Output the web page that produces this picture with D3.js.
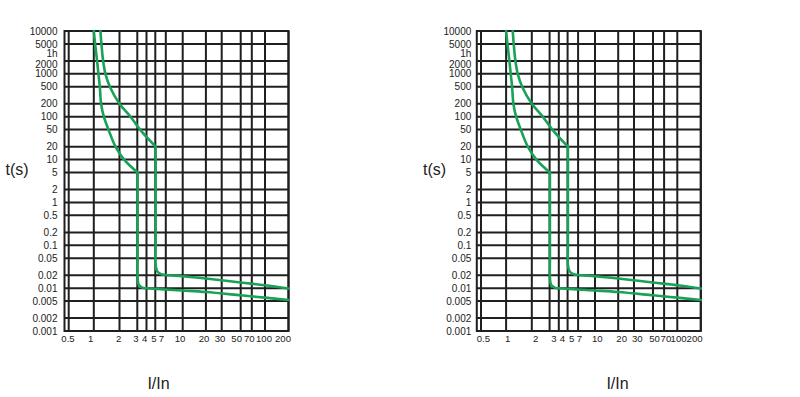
<!DOCTYPE html>
<html>
<head>
<meta charset="utf-8">
<script src="https://cdn.jsdelivr.net/npm/d3@7"></script>
<style>
  html, body { margin: 0; padding: 0; background: #fff; }
  svg { display: block; }
  .tick-label { font-family: "Liberation Sans Narrow", "Arial Narrow", "Liberation Sans", Arial, sans-serif; font-size: 10px; fill: #222; }
  .x-label { font-size: 9.6px; }
  .title { font-family: "Liberation Sans", Arial, sans-serif; font-size: 16px; fill: #222; }
</style>
</head>
<body>
<script>
// ---- data ----
const xTicks = [0.5, 1, 2, 3, 4, 5, 7, 10, 20, 30, 50, 70, 100, 200];
const xTickLabels = ["0.5", "1", "2", "3", "4", "5", "7", "10", "20", "30", "50", "70", "100", "200"];
const yTicks = [10000, 5000, 3600, 2000, 1000, 500, 200, 100, 50, 20, 10, 5, 2, 1, 0.5, 0.2, 0.1, 0.05, 0.02, 0.01, 0.005, 0.002, 0.001];
const yTickLabels = ["10000", "5000", "1h", "2000", "1000", "500", "200", "100", "50", "20", "10", "5", "2", "1", "0.5", "0.2", "0.1", "0.05", "0.02", "0.01", "0.005", "0.002", "0.001"];
const xTitle = "I/In";
const yTitle = "t(s)";

// lower (minimum) curve: thermal part, then magnetic part
const lowerThermal = [[1.0, 10000], [1.036, 5000], [1.093, 2000], [1.133, 1000], [1.176, 500], [1.218, 200], [1.311, 100], [1.485, 50], [1.795, 20], [2.22, 10], [3.03, 5]];
const lowerMagnetic = [[3.03, 5], [3.03, 0.5], [3.03, 0.05], [3.04, 0.016], [3.15, 0.0118], [3.5, 0.0103], [4, 0.0099], [10, 0.0088], [20, 0.0081], [50, 0.0068], [100, 0.006], [200, 0.0053]];
// upper (maximum) curve
const upperThermal = [[1.196, 10000], [1.228, 5000], [1.286, 2000], [1.369, 1000], [1.542, 500], [2.0, 200], [2.57, 100], [3.27, 50], [5.05, 20]];
const upperMagnetic = [[5.05, 20], [5.05, 1], [5.05, 0.1], [5.06, 0.034], [5.3, 0.025], [5.9, 0.0215], [7, 0.0202], [10, 0.019], [20, 0.0168], [50, 0.0135], [100, 0.0117], [200, 0.0098]];

// ---- layout (hand-drawn grid: pixel offsets of each x grid line from the frame's left edge) ----
const W = 800, H = 397;
const plotW = 224, plotH = 300, plotTop = 31;
const xGridOffsets = [4.2, 29.3, 55, 72.8, 82, 90.8, 101.3, 118.2, 141.4, 157.2, 176.2, 187.3, 200.5, 224];
const panels = [
  { x0: 64.5, yLabelGap: 7, yTitleX: 17, xTitleX: 158.5,
    xLabelNudge: [-0.7, -3.1, -0.8, -1.3, -1.8, -1.3, -4.5, -2.7, -1.9, -1.7, -4, -2.5, -1, -5.5] },
  { x0: 476.8, yLabelGap: 5.5, yTitleX: 434.5, xTitleX: 617.5,
    xLabelNudge: [2.3, 1.6, 3.9, 4.4, 3.5, 4.1, 1.2, 2.3, 3.5, 3.3, 1.5, 1.8, 1.3, -6.2] }
];
const gridColor = "#1f1f1f";
const curveColor = "#19a257";

const svg = d3.select("body").append("svg").attr("width", W).attr("height", H);
svg.append("rect").attr("width", W).attr("height", H).attr("fill", "#fff");

const x = d3.scaleLog().domain(xTicks).range(xGridOffsets);
const y = d3.scaleLog().domain([0.001, 10000]).range([plotH, 0]);

const line = d3.line().x(d => x(d[0])).y(d => y(d[1])).curve(d3.curveCatmullRom.alpha(0.5));

panels.forEach(p => {
  const g = svg.append("g").attr("transform", `translate(${p.x0},${plotTop})`);

  // horizontal grid lines (every labelled value except 1h)
  g.append("g").selectAll("line")
    .data(yTicks.filter((v, i) => yTickLabels[i] !== "1h"))
    .join("line")
    .attr("x1", 0).attr("x2", plotW)
    .attr("y1", d => y(d)).attr("y2", d => y(d))
    .attr("stroke", gridColor).attr("stroke-width", 2);

  // vertical grid lines
  g.append("g").selectAll("line")
    .data(xTicks)
    .join("line")
    .attr("x1", d => x(d)).attr("x2", d => x(d))
    .attr("y1", 0).attr("y2", plotH)
    .attr("stroke", gridColor).attr("stroke-width", 2);

  // frame
  g.append("rect").attr("x", 0).attr("y", 0).attr("width", plotW).attr("height", plotH)
    .attr("fill", "none").attr("stroke", gridColor).attr("stroke-width", 2);

  // y tick labels
  const yOffsets = { "1h": 3.5, "2000": 3 };
  g.append("g").selectAll("text")
    .data(yTicks.map((v, i) => ({ v, label: yTickLabels[i] })))
    .join("text")
    .attr("class", "tick-label")
    .attr("x", -p.yLabelGap)
    .attr("y", d => y(d.v) + 1 + (yOffsets[d.label] || 0))
    .attr("text-anchor", "end")
    .attr("dominant-baseline", "middle")
    .text(d => d.label);

  // x tick labels
  g.append("g").selectAll("text")
    .data(xTicks.map((v, i) => ({ v, label: xTickLabels[i], nudge: p.xLabelNudge[i] })))
    .join("text")
    .attr("class", "tick-label x-label")
    .attr("x", d => x(d.v) + d.nudge)
    .attr("y", plotH + 8)
    .attr("text-anchor", "middle")
    .attr("dominant-baseline", "middle")
    .text(d => d.label);

  // curves
  [lowerThermal, lowerMagnetic, upperThermal, upperMagnetic].forEach(c => {
    g.append("path").datum(c)
      .attr("d", line)
      .attr("fill", "none")
      .attr("stroke", curveColor)
      .attr("stroke-width", 2.6)
      .attr("stroke-linejoin", "round")
      .attr("stroke-linecap", "round");
  });

  // titles
  svg.append("text").attr("class", "title")
    .attr("x", p.yTitleX).attr("y", 171)
    .attr("text-anchor", "middle").attr("dominant-baseline", "middle")
    .text(yTitle);
  svg.append("text").attr("class", "title")
    .attr("x", p.xTitleX).attr("y", 385)
    .attr("text-anchor", "middle").attr("dominant-baseline", "middle")
    .text(xTitle);
});
</script>
</body>
</html>
